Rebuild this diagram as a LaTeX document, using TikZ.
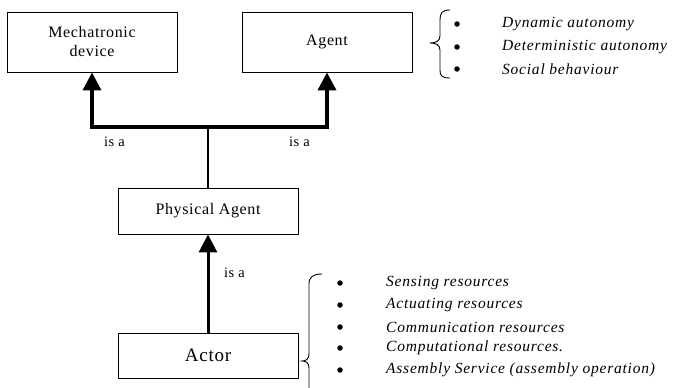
\documentclass[tikz,border=0pt]{standalone}
\usepackage{fontspec}
\setmainfont{Liberation Serif}
\newfontfamily\boxfont{Liberation Serif}[LetterSpace=4]
\newfontfamily\listfont{Liberation Serif}[LetterSpace=5]
\usetikzlibrary{arrows.meta}
\begin{document}
\begin{tikzpicture}[x=1pt,y=-1pt,
  classbox/.style={draw,line width=0.9pt,minimum width=170pt,minimum height=60pt,
    inner sep=0pt,align=center,font=\boxfont\fontsize{16}{19}\selectfont},
  isa/.style={line width=4pt,-{Triangle[length=18pt,width=18pt]}},
  stem/.style={line width=2.6pt},
  lbl/.style={font=\boxfont\fontsize{14.5}{16}\selectfont,inner sep=0pt},
  item/.style={anchor=west,inner sep=0pt,font=\listfont\itshape\fontsize{15.5}{18}\selectfont},
  dot/.style={circle,fill,inner sep=0pt,minimum size=5.5pt},
  brace/.style={line width=0.9pt}]
\useasboundingbox (0,0) rectangle (678,388);

% classes
\node[classbox] (mech) at (92,42) {Mechatronic\\device};
\node[classbox] (agent) at (327,42) {Agent};
\node[classbox,minimum width=180pt,minimum height=46pt] (pa) at (208,211) {Physical Agent};
\node[classbox,minimum width=180pt,minimum height=45pt,
      font=\boxfont\fontsize{19}{22}\selectfont] (actor) at (208,355.5) {Actor};

% generalisation links
\coordinate (j) at (208,127);
\draw[stem] (pa.north) -- (j);
\draw[isa] (j) -| (mech.south);
\draw[isa] (j) -| (agent.south);
\draw[line width=3pt,-{Triangle[length=18pt,width=18pt]}] (actor.north) -- (pa.south);

\node[lbl] (isa1) at (114.5,142) {is a};
\node[lbl] (isa2) at (299.5,142) {is a};
\node[lbl] (isa3) at (234.5,273) {is a};

% agent properties
\draw[brace] (450,10) .. controls (442,10) and (440,13) .. (440,20)
  -- (440,36) .. controls (440,41) and (436,43) .. (430,43)
  .. controls (436,43) and (440,45) .. (440,50)
  -- (440,70) .. controls (440,76) and (442,78) .. (450,78);
\foreach \y/\t [count=\i] in {24/Dynamic autonomy,47/Deterministic autonomy,69/Social behaviour}{
  \node[dot] (ad\i) at (457,\y) {};
  \node[item] (at\i) at (502,\y) {\t};
}

% actor properties
\draw[brace] (322,274) .. controls (313,274) and (309,277) .. (309,284)
  -- (309,354) .. controls (309,359) and (306,361) .. (302,361)
  .. controls (306,361) and (309,363) .. (309,368)
  -- (309,390);
\foreach \y/\t [count=\i] in {283/Sensing resources,305/Actuating resources,
  327/Communication resources,348/Computational resources.,
  370/Assembly Service (assembly operation)}{
  \node[dot] (rd\i) at (340,\y) {};
  \node[item] (rt\i) at (386,\y) {\t};
}
\end{tikzpicture}
\end{document}
